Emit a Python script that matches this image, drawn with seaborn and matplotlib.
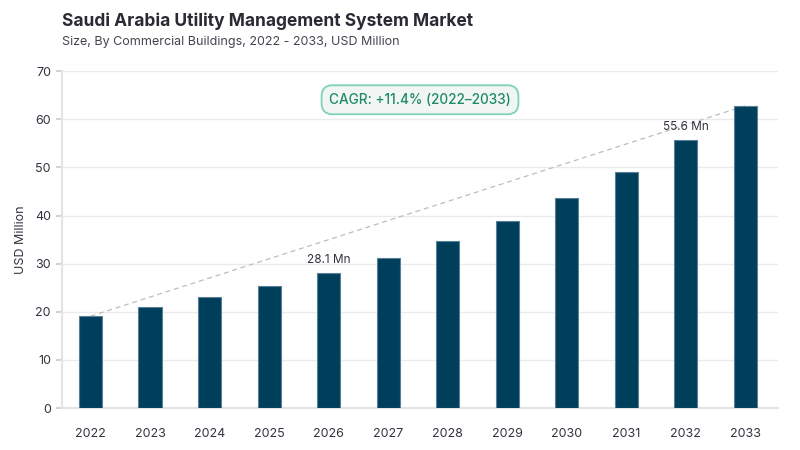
import matplotlib
matplotlib.use("Agg")
import matplotlib.pyplot as plt
import seaborn as sns
import pandas as pd

years = ["2022", "2023", "2024", "2025", "2026", "2027", "2028", "2029", "2030", "2031", "2032", "2033"]
values = [19.1, 21.0, 23.1, 25.3, 28.1, 31.1, 34.7, 38.8, 43.6, 49.1, 55.6, 62.8]
labelled = {"2026": "28.1 Mn", "2032": "55.6 Mn"}
cagr_text = "CAGR: +11.4% (2022\u20132033)"

df = pd.DataFrame({"Year": years, "Value": values})

sns.set_theme(style="white")
plt.rcParams["font.family"] = ["Inter", "DejaVu Sans"]

fig = plt.figure(figsize=(8, 4.5), dpi=100)
ax = fig.add_axes([0.0775, 0.093, 0.895, 0.749])

sns.barplot(data=df, x="Year", y="Value", color="#003f5c", width=0.39,
            edgecolor="#5b7f95", linewidth=0.8, saturation=1, ax=ax, zorder=3)

# dashed trend line between first and last bar
ax.plot([0, len(years) - 1], [values[0], values[-1]], color="#bdbdbd",
        linestyle=(0, (4, 3)), linewidth=0.9, zorder=2)

for i, y in enumerate(years):
    if y in labelled:
        ax.annotate(labelled[y], (i, values[i]), xytext=(0, 5), textcoords="offset points",
                    ha="center", va="bottom", fontsize=8.5, color="#333340")

ax.text(0.5, 0.915, cagr_text, transform=ax.transAxes, ha="center", va="center",
        fontsize=9.8, color="#1e8a66", fontweight="medium",
        bbox=dict(boxstyle="round,pad=0.55,rounding_size=0.8", facecolor="#f1f6f5",
                  edgecolor="#7ed3b6", linewidth=1.3), zorder=5)

ax.set_ylim(0, 70)
ax.set_xlim(-0.48, 11.55)
ax.set_yticks(range(0, 71, 10))
ax.yaxis.grid(True, color="#ebebeb", linewidth=1, zorder=0)
ax.set_axisbelow(True)
for s in ["top", "right"]:
    ax.spines[s].set_visible(False)
ax.spines["left"].set_color("#e3e3e8")
ax.spines["bottom"].set_color("#e3e3e8")
ax.spines["left"].set_linewidth(1.5)
ax.spines["bottom"].set_linewidth(1.5)
ax.tick_params(axis="y", left=True, length=4, color="#cccccc", labelsize=9, labelcolor="#333340", pad=4)
ax.tick_params(axis="x", bottom=False, labelsize=9, labelcolor="#333340", pad=8)
ax.set_xlabel("")
ax.set_ylabel("USD Million", fontsize=9, color="#333340", labelpad=6)

fig.text(0.0775, 0.952, "Saudi Arabia Utility Management System Market", fontsize=12.5,
         fontweight="bold", color="#2a2a35", va="center")
fig.text(0.0775, 0.907, "Size, By Commercial Buildings, 2022 - 2033, USD Million", fontsize=9,
         color="#444450", va="center")

fig.savefig("out.png", dpi=100)
